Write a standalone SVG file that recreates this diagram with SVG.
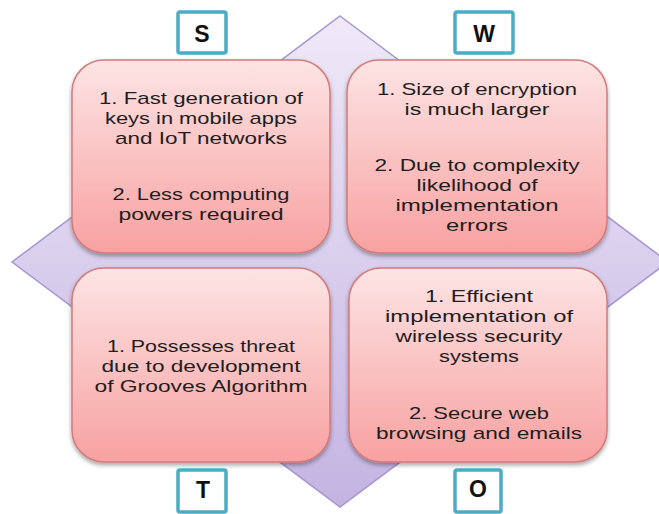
<svg xmlns="http://www.w3.org/2000/svg" width="659" height="514" viewBox="0 0 659 514">
<defs>
<linearGradient id="dia" x1="0" y1="0" x2="0" y2="1">
<stop offset="0" stop-color="#efe9f8"/>
<stop offset="1" stop-color="#c4b3e2"/>
</linearGradient>
<linearGradient id="box" x1="0" y1="0" x2="0" y2="1">
<stop offset="0" stop-color="#fde4e4"/>
<stop offset="1" stop-color="#f8a1a1"/>
</linearGradient>
<filter id="sh" x="-10%" y="-10%" width="120%" height="125%">
<feDropShadow dx="0" dy="2.5" stdDeviation="2" flood-color="#000" flood-opacity="0.35"/>
</filter>
</defs>
<style>
.card{fill:url(#box);stroke:#d27a7a;stroke-width:1.5;filter:url(#sh)}
.lbl{fill:#fff;stroke:#4bacc6;stroke-width:3.5}
.t{font-family:"Liberation Sans",Arial,sans-serif;font-size:17px;fill:#1e1e1e;text-anchor:middle}
.L{font-family:"Liberation Sans",Arial,sans-serif;font-size:23px;font-weight:bold;fill:#111;text-anchor:middle}
</style>
<rect width="659" height="514" fill="#fff"/>
<polygon id="diamond" points="340,16 668,262 340,507 12,262" fill="url(#dia)" stroke="#a596d0" stroke-width="1.5"/>

<g id="strengths">
<rect class="card" x="72" y="60" width="258" height="193" rx="32"/>
<text class="t" x="201" y="104" textLength="204" lengthAdjust="spacingAndGlyphs">1. Fast generation of</text>
<text class="t" x="201" y="124" textLength="192" lengthAdjust="spacingAndGlyphs">keys in mobile apps</text>
<text class="t" x="201" y="144" textLength="172" lengthAdjust="spacingAndGlyphs">and IoT networks</text>
<text class="t" x="201" y="200" textLength="177" lengthAdjust="spacingAndGlyphs">2. Less computing</text>
<text class="t" x="201" y="220" textLength="165" lengthAdjust="spacingAndGlyphs">powers required</text>
</g>

<g id="weaknesses">
<rect class="card" x="347" y="60" width="260" height="193" rx="32"/>
<text class="t" x="477" y="95" textLength="200" lengthAdjust="spacingAndGlyphs">1. Size of encryption</text>
<text class="t" x="477" y="115" textLength="145" lengthAdjust="spacingAndGlyphs">is much larger</text>
<text class="t" x="477" y="171" textLength="205" lengthAdjust="spacingAndGlyphs">2. Due to complexity</text>
<text class="t" x="477" y="191" textLength="121" lengthAdjust="spacingAndGlyphs">likelihood of</text>
<text class="t" x="477" y="211" textLength="163" lengthAdjust="spacingAndGlyphs">implementation</text>
<text class="t" x="477" y="231" textLength="62" lengthAdjust="spacingAndGlyphs">errors</text>
</g>

<g id="threats">
<rect class="card" x="72" y="268" width="258" height="194" rx="32"/>
<text class="t" x="201" y="352" textLength="188" lengthAdjust="spacingAndGlyphs">1. Possesses threat</text>
<text class="t" x="201" y="372" textLength="199" lengthAdjust="spacingAndGlyphs">due to development</text>
<text class="t" x="201" y="392" textLength="213" lengthAdjust="spacingAndGlyphs">of Grooves Algorithm</text>
</g>

<g id="opportunities">
<rect class="card" x="349" y="268" width="258" height="194" rx="32"/>
<text class="t" x="479" y="302" textLength="108" lengthAdjust="spacingAndGlyphs">1. Efficient</text>
<text class="t" x="479" y="322" textLength="188" lengthAdjust="spacingAndGlyphs">implementation of</text>
<text class="t" x="479" y="342" textLength="167" lengthAdjust="spacingAndGlyphs">wireless security</text>
<text class="t" x="479" y="362" textLength="80" lengthAdjust="spacingAndGlyphs">systems</text>
<text class="t" x="479" y="419" textLength="140" lengthAdjust="spacingAndGlyphs">2. Secure web</text>
<text class="t" x="479" y="439" textLength="206" lengthAdjust="spacingAndGlyphs">browsing and emails</text>
</g>

<g id="label-S">
<rect class="lbl" x="178" y="12" width="48" height="41" rx="2"/>
<text class="L" x="202" y="42">S</text>
</g>
<g id="label-W">
<rect class="lbl" x="455" y="12" width="58" height="41" rx="2"/>
<text class="L" x="484" y="42">W</text>
</g>
<g id="label-T">
<rect class="lbl" x="178" y="470" width="48" height="42" rx="2"/>
<text class="L" x="203" y="498">T</text>
</g>
<g id="label-O">
<rect class="lbl" x="455" y="470" width="46" height="42" rx="2"/>
<text class="L" x="478" y="497">O</text>
</g>
<g id="connectors"/>
</svg>
